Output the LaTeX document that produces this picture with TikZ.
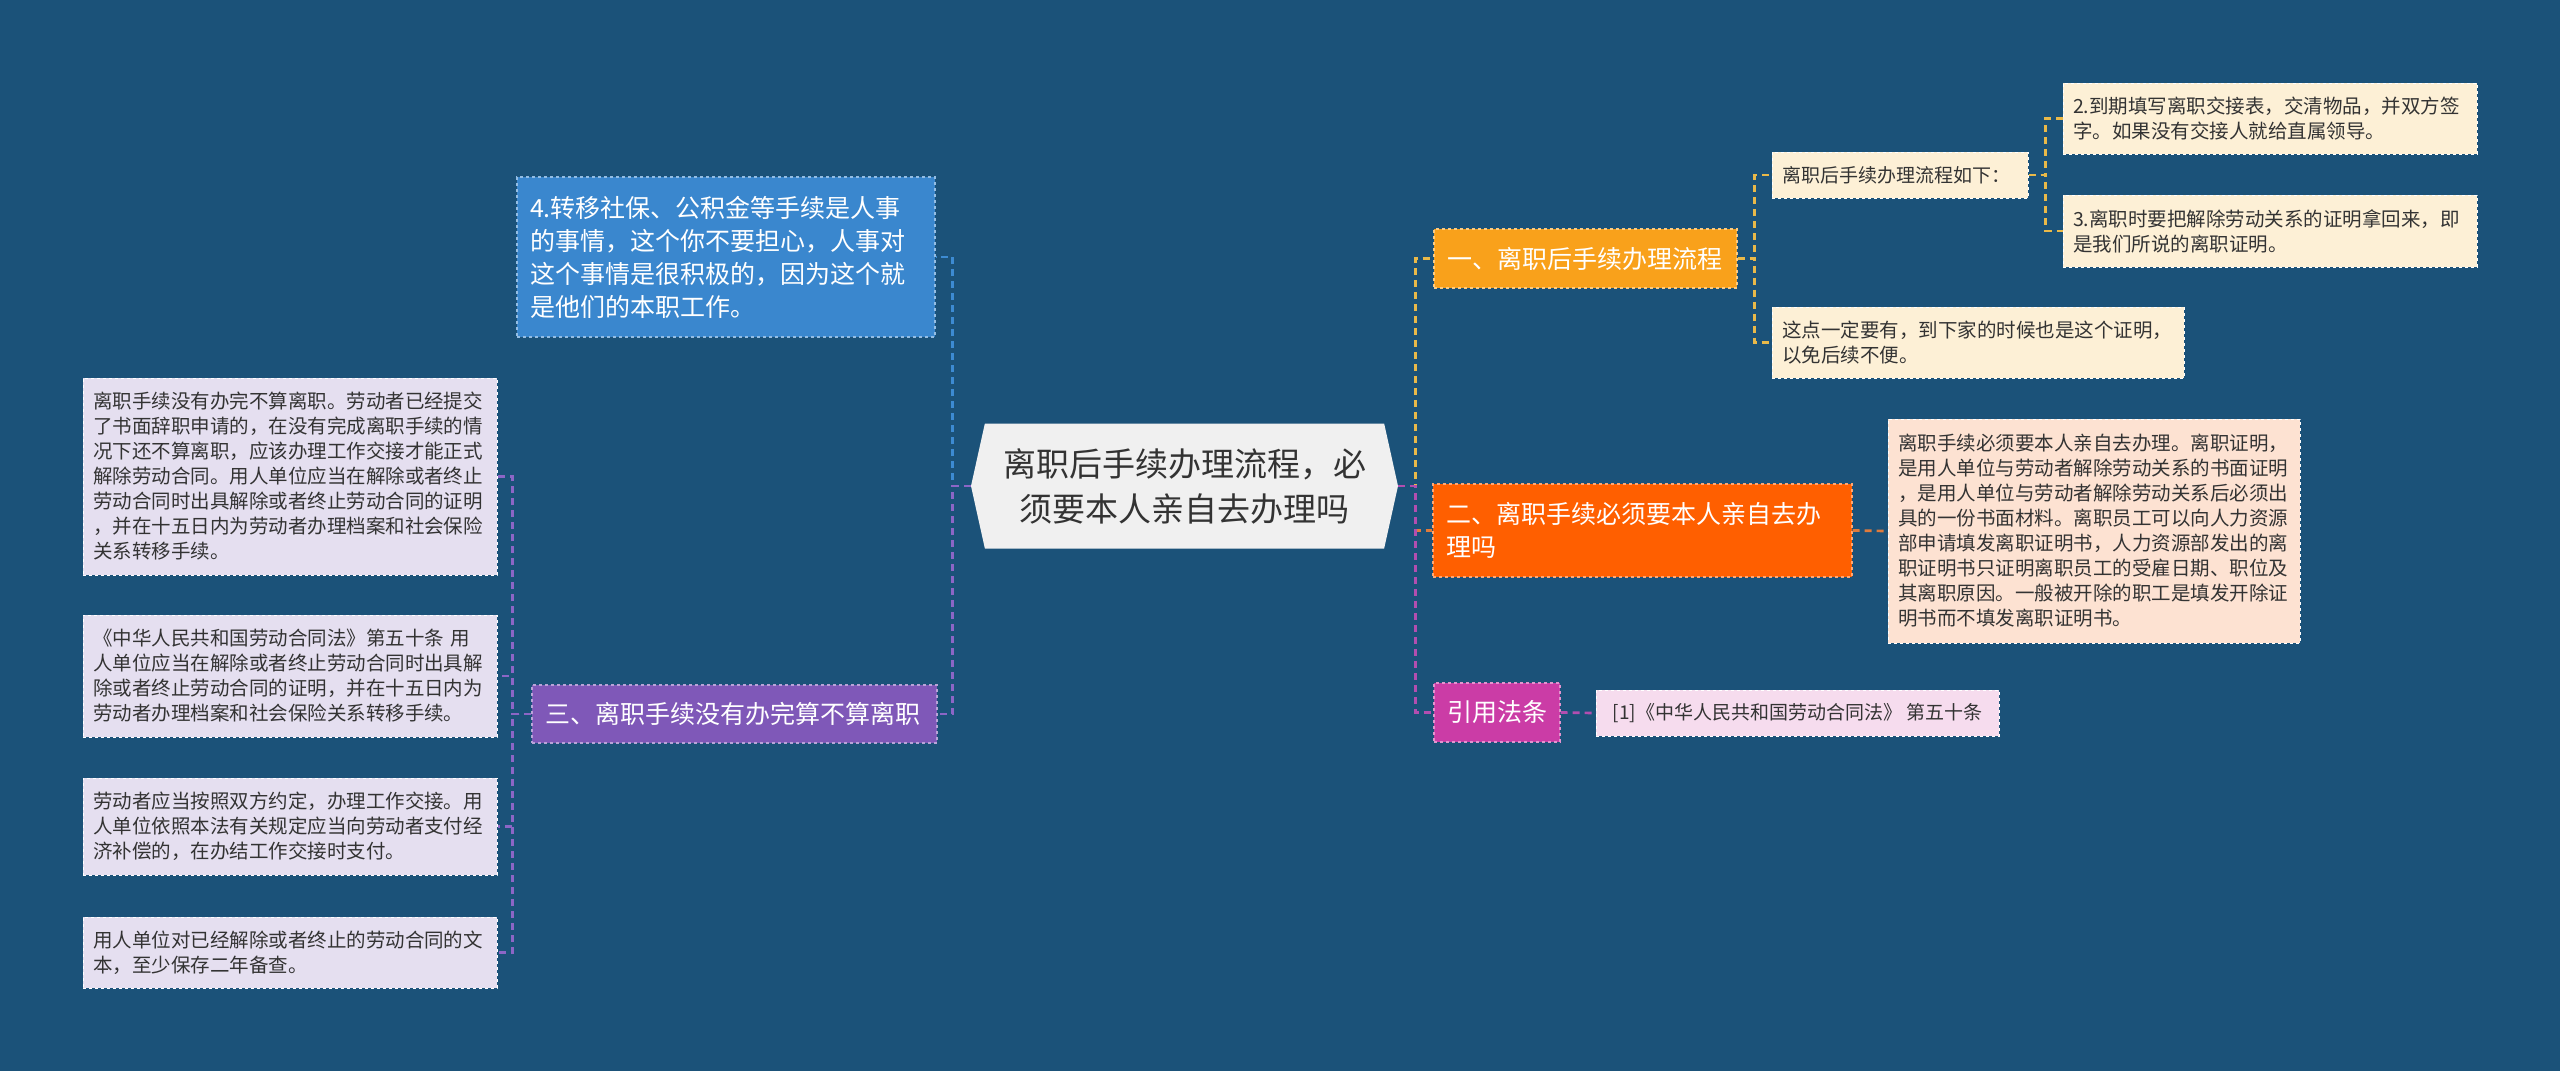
\documentclass[tikz,border=0pt]{standalone}
\usepackage{fontspec}
\setmainfont{Noto Sans CJK SC}
\usepackage{tikz}
\usetikzlibrary{shapes.symbols}
\definecolor{BgBlue}{HTML}{1B5279}
\definecolor{CtrFill}{HTML}{F0F0F0}
\definecolor{TextDark}{HTML}{333333}
\definecolor{BlueNode}{HTML}{3A87CE}
\definecolor{PurpleNode}{HTML}{7F58B8}
\definecolor{OrangeNode}{HTML}{F9A11B}
\definecolor{RedNode}{HTML}{FF5F00}
\definecolor{PinkNode}{HTML}{CB3CA6}
\definecolor{LeafLav}{HTML}{E5DFF0}
\definecolor{LeafCream}{HTML}{FDF0D6}
\definecolor{LeafPeach}{HTML}{FDE2D2}
\definecolor{LeafPink}{HTML}{F6DCEE}
\definecolor{LnBlue}{HTML}{3D8BD2}
\definecolor{LnPurple}{HTML}{8C66C6}
\definecolor{LnYellow}{HTML}{E9B949}
\definecolor{LnRed}{HTML}{E07B3C}
\definecolor{LnPink}{HTML}{B24EB0}

\begin{document}
\begin{tikzpicture}[x=1pt, y=-1pt,
    branch/.style={rectangle, fill=#1, draw=#1!55!white, dashed, line width=1.2pt,
        text=white, font=\fontsize{25}{33}\selectfont, align=left,
        inner xsep=13pt, inner ysep=0pt},
    leaf/.style={rectangle, fill=#1, draw=white, dashed, line width=1pt,
        text=TextDark, font=\fontsize{19.5}{25}\selectfont, align=left,
        inner xsep=10pt, inner ysep=0pt},
    link/.style={draw=#1, dash pattern=on 7pt off 5pt, line width=2.7pt}]

    % background
    \fill[BgBlue] (0,0) rectangle (2560,1071);

    % centre
    \node[signal, signal to=west and east, signal pointer angle=155, fill=CtrFill,
          minimum width=427pt, minimum height=125pt, text=TextDark, align=center,
          font=\fontsize{33}{45}\selectfont] (ctr) at (1184.5,486)
          {离职后手续办理流程，必\\须要本人亲自去办理吗};

    % left side
    \node[branch=BlueNode, text width=392pt, minimum height=160pt] (n3) at (726,257)
        {4.转移社保、公积金等手续是人事\\的事情，这个你不要担心，人事对\\这个事情是很积极的，因为这个就\\是他们的本职工作。};
    \node[branch=PurpleNode, text width=379pt, minimum height=58pt] (n4) at (734.5,714)
        {三、离职手续没有办完算不算离职};

    \node[leaf=LeafLav, text width=394pt, minimum height=197pt] (n4a) at (290,476.5)
        {离职手续没有办完不算离职。劳动者已经提交\\了书面辞职申请的，在没有完成离职手续的情\\况下还不算离职，应该办理工作交接才能正式\\解除劳动合同。用人单位应当在解除或者终止\\劳动合同时出具解除或者终止劳动合同的证明\\，并在十五日内为劳动者办理档案和社会保险\\关系转移手续。};
    \node[leaf=LeafLav, text width=394pt, minimum height=122pt] (n4b) at (290,676)
        {《中华人民共和国劳动合同法》第五十条~用\\人单位应当在解除或者终止劳动合同时出具解\\除或者终止劳动合同的证明，并在十五日内为\\劳动者办理档案和社会保险关系转移手续。};
    \node[leaf=LeafLav, text width=394pt, minimum height=97pt] (n4c) at (290,826.5)
        {劳动者应当按照双方约定，办理工作交接。用\\人单位依照本法有关规定应当向劳动者支付经\\济补偿的，在办结工作交接时支付。};
    \node[leaf=LeafLav, text width=394pt, minimum height=71pt] (n4d) at (290,952.5)
        {用人单位对已经解除或者终止的劳动合同的文\\本，至少保存二年备查。};

    % right side
    \node[branch=OrangeNode, text width=277pt, minimum height=59pt] (n1) at (1585.5,258.5)
        {一、离职后手续办理流程};
    \node[leaf=LeafCream, font=\fontsize{19}{25}\selectfont, text width=236pt, minimum height=46pt] (n1a) at (1900,175)
        {离职后手续办理流程如下：};
    \node[leaf=LeafCream, text width=394pt, minimum height=71pt] (n1a1) at (2270,118.5)
        {2.到期填写离职交接表，交清物品，并双方签\\字。如果没有交接人就给直属领导。};
    \node[leaf=LeafCream, text width=394pt, minimum height=72pt] (n1a2) at (2270,231)
        {3.离职时要把解除劳动关系的证明拿回来，即\\是我们所说的离职证明。};
    \node[leaf=LeafCream, text width=392pt, minimum height=71pt] (n1b) at (1978,342.5)
        {这点一定要有，到下家的时候也是这个证明，\\以免后续不便。};

    \node[branch=RedNode, text width=393pt, minimum height=93pt] (n2) at (1642.5,530.5)
        {二、离职手续必须要本人亲自去办\\理吗};
    \node[leaf=LeafPeach, text width=392pt, minimum height=224pt] (n2a) at (2094,531)
        {离职手续必须要本人亲自去办理。离职证明，\\是用人单位与劳动者解除劳动关系的书面证明\\，是用人单位与劳动者解除劳动关系后必须出\\具的一份书面材料。离职员工可以向人力资源\\部申请填发离职证明书，人力资源部发出的离\\职证明书只证明离职员工的受雇日期、职位及\\其离职原因。一般被开除的职工是填发开除证\\明书而不填发离职证明书。};

    \node[branch=PinkNode, minimum height=59pt, minimum width=126pt] (n5) at (1497,712.5)
        {引用法条};
    \node[leaf=LeafPink, font=\fontsize{19}{25}\selectfont, minimum height=46pt, minimum width=403pt] (n5a) at (1797.5,713)
        {[1]《中华人民共和国劳动合同法》 第五十条};

    % connectors
    \draw[link=LnBlue] (ctr.west) -- ++(-18,0) |- (n3.east);
    \draw[link=LnPurple] (ctr.west) -- ++(-18,0) |- (n4.east);
    \foreach \k in {n4a,n4b,n4c,n4d}
        \draw[link=LnPurple] (n4.west) -- ++(-19,0) |- (\k.east);

    \draw[link=LnYellow] (ctr.east) -- ++(17,0) |- (n1.west);
    \draw[link=LnRed] (ctr.east) -- ++(17,0) |- (n2.west);
    \draw[link=LnPink] (ctr.east) -- ++(17,0) |- (n5.west);

    \draw[link=LnYellow] (n1.east) -- ++(17,0) |- (n1a.west);
    \draw[link=LnYellow] (n1.east) -- ++(17,0) |- (n1b.west);
    \draw[link=LnYellow] (n1a.east) -- ++(17,0) |- (n1a1.west);
    \draw[link=LnYellow] (n1a.east) -- ++(17,0) |- (n1a2.west);
    \draw[link=LnRed] (n2.east) -- (n2a.west);
    \draw[link=LnPink] (n5.east) -- (n5a.west);
\end{tikzpicture}
\end{document}
